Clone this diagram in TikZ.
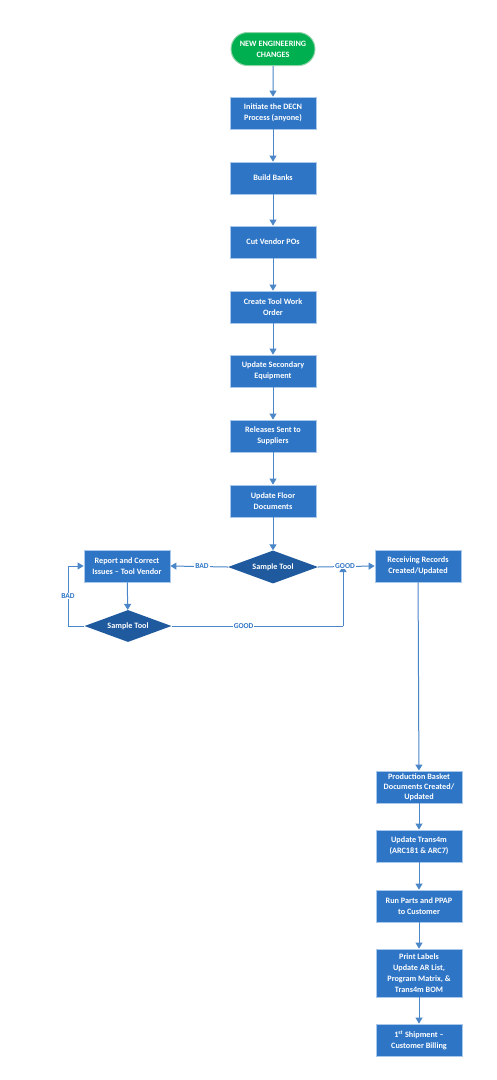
\documentclass[tikz,border=0pt]{standalone}
\usepackage{fontspec}
\setmainfont{Carlito}
\usetikzlibrary{shapes.geometric,shapes.misc,arrows.meta}
\definecolor{boxblue}{HTML}{2E75C6}
\definecolor{boxedge}{HTML}{A9C8EA}
\definecolor{diablue}{HTML}{1F5A9E}
\definecolor{linkblue}{HTML}{4A86C8}
\definecolor{termgreen}{HTML}{00B050}
\definecolor{termedge}{HTML}{8FD4A8}
\begin{document}
\begin{tikzpicture}[x=1pt,y=-1pt,
  every node/.style={font=\bfseries\fontsize{8.2}{11}\selectfont},
  procbox/.style={rectangle,fill=boxblue,draw=boxedge,line width=0.8pt,text=white,
    minimum width=86pt,minimum height=32pt,align=center,inner sep=1pt},
  decbox/.style={diamond,fill=diablue,draw=none,text=white,shape aspect=2.7,inner sep=0pt,
    minimum width=90pt,minimum height=33pt},
  termbox/.style={rounded rectangle,fill=termgreen,draw=termedge,line width=1pt,text=white,
    minimum width=86pt,minimum height=33pt,align=center,inner sep=1pt},
  link/.style={draw=linkblue,line width=1pt,-{Triangle[width=7pt,length=6pt]}},
  plainlink/.style={draw=linkblue,line width=1pt},
  lbl/.style={fill=white,text=boxblue,inner sep=1pt,font=\bfseries\fontsize{7.5}{8}\selectfont}]
\useasboundingbox (0,0) rectangle (496,1080);

\node[termbox] (start) at (273,49) {NEW ENGINEERING\\CHANGES};
\node[procbox] (b1) at (273,113) {Initiate the DECN\\Process (anyone)};
\node[procbox] (b2) at (273,178) {Build Banks};
\node[procbox] (b3) at (273,242) {Cut Vendor POs};
\node[procbox] (b4) at (273,307) {Create Tool Work\\Order};
\node[procbox] (b5) at (273,371) {Update Secondary\\Equipment};
\node[procbox] (b6) at (273,436) {Releases Sent to\\Suppliers};
\node[procbox] (b7) at (273,501) {Update Floor\\Documents};
\node[decbox] (d1) at (273,567) {Sample Tool};
\node[procbox] (rep) at (127,566) {Report and Correct\\Issues – Tool Vendor};
\node[decbox,minimum width=87pt,minimum height=32pt] (d2) at (128,626) {Sample Tool};
\node[procbox] (r1) at (418,566) {Receiving Records\\Created/Updated};
\node[procbox,font=\bfseries\fontsize{8.2}{10.2}\selectfont] (p1) at (419,787) {Production Basket\\Documents Created/\\Updated};
\node[procbox] (p2) at (419,846) {Update Trans4m\\(ARC181 \& ARC7)};
\node[procbox] (p3) at (419,906) {Run Parts and PPAP\\to Customer};
\node[procbox,minimum height=48pt] (p4) at (419,973) {Print Labels\\Update AR List,\\Program Matrix, \&\\Trans4m BOM};
\node[procbox] (p5) at (419,1040) {1\textsuperscript{st} Shipment –\\Customer Billing};

\coordinate (lft) at (68,626);
\coordinate (jn) at (343,626);
\coordinate (jt) at (343,566);

\draw[link] (start) -- (b1);
\draw[link] (b1) -- (b2);
\draw[link] (b2) -- (b3);
\draw[link] (b3) -- (b4);
\draw[link] (b4) -- (b5);
\draw[link] (b5) -- (b6);
\draw[link] (b6) -- (b7);
\draw[link] (b7) -- (d1);
\draw[link] (d1.west) -- node[lbl,pos=0.45] {BAD} (rep.east);
\draw[link] (d1.east) -- (r1.west);
\draw[link] (rep) -- (d2);
\draw[link] (d2.west) -- (lft) |- node[lbl,pos=0.25] {BAD} (rep.west);
\draw[plainlink] (d2.east) -- node[lbl,pos=0.42] {GOOD} (jn);
\draw[link] (jn) -- (jt);
\node[lbl] (g1) at (345,566) {GOOD};
\draw[link] (r1) -- (p1);
\draw[link] (p1) -- (p2);
\draw[link] (p2) -- (p3);
\draw[link] (p3) -- (p4);
\draw[link] (p4) -- (p5);
\end{tikzpicture}
\end{document}
